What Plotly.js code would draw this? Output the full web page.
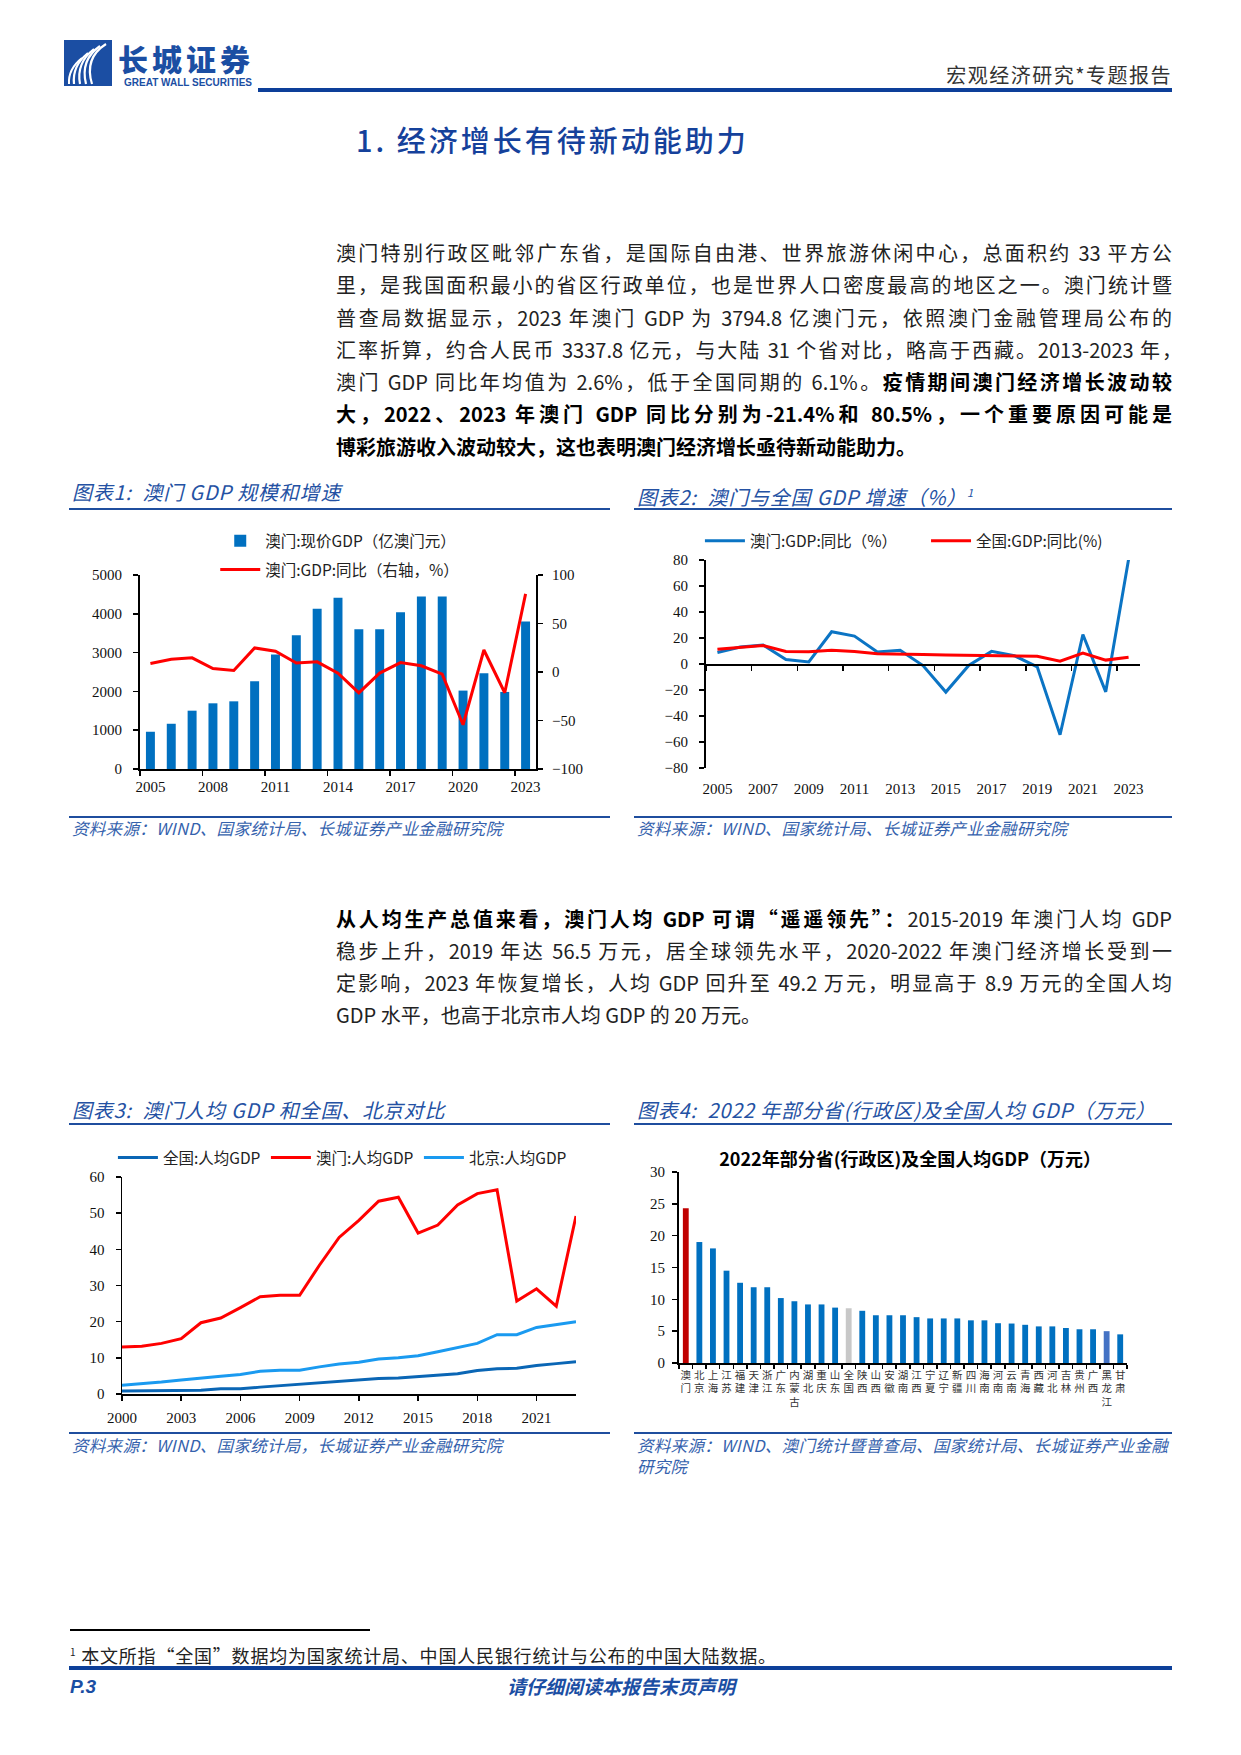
<!DOCTYPE html>
<html>
<head>
<meta charset="utf-8">
<script src="https://cdn.plot.ly/plotly-3.0.1.min.js"></script>
<style>
  html, body { margin: 0; padding: 0; background: #fff; }
  #page { position: relative; width: 1241px; height: 1755px; overflow: hidden; background: #fff;
          font-family: "Noto Sans CJK SC", "Noto Sans", sans-serif; color: #111; }
  .abs { position: absolute; }
  .figtitle { position: absolute; font-style: italic; color: #2451a3; font-size: 20px; letter-spacing: 0.8px; line-height: 24px; white-space: nowrap; }
  .src { position: absolute; font-style: italic; color: #3562ad; font-size: 16.5px; line-height: 21px; letter-spacing: 0.3px; }
  .rule { position: absolute; height: 2px; background: #1f4e9e; }
  .ln { position: absolute; left: 336px; width: 836px; font-size: 20px; line-height: 30px; height: 30px;
        text-align: justify; text-align-last: justify; color: #222; }
  .ln.last { text-align-last: left; }
  b { font-weight: 700; color: #000; }
  .chart { position: absolute; }
</style>
</head>
<body>
<div id="page">
  <!-- header -->
  <svg class="abs" style="left:62px;top:28px" width="240" height="66" viewBox="0 0 240 66">
    <rect x="2" y="12" width="48" height="46" fill="#1b4ea3"/>
    <path d="M44 16 Q22 30 30 56" stroke="#fff" stroke-width="2.2" fill="none"/>
    <path d="M38 18 Q18 32 24 56" stroke="#fff" stroke-width="2.2" fill="none"/>
    <path d="M32 21 Q14 35 18 56" stroke="#fff" stroke-width="2.2" fill="none"/>
    <path d="M26 25 Q10 38 12 56" stroke="#fff" stroke-width="2.2" fill="none"/>
    <path d="M20 30 Q6 41 7 56" stroke="#fff" stroke-width="2" fill="none"/>
    <text x="56" y="43" font-family="Noto Sans CJK SC" font-weight="900" font-size="30" fill="#1b4ea3" letter-spacing="4">长城证券</text>
    <text x="62" y="58" font-family="Liberation Sans" font-weight="700" font-size="10" fill="#1b4ea3">GREAT WALL SECURITIES</text>
  </svg>
  <div class="abs" style="right:69px;top:61px;font-size:20px;letter-spacing:1.5px;color:#333;line-height:28px;">宏观经济研究*专题报告</div>
  <div class="abs" style="left:258px;top:88px;width:914px;height:4px;background:#0d3f99;"></div>

  <div class="abs" style="left:356px;top:120px;font-size:29px;line-height:38px;color:#15419b;font-weight:500;letter-spacing:3px;">1. 经济增长有待新动能助力</div>

  <!-- paragraph 1 -->
  <div class="ln" style="top:238px">澳门特别行政区毗邻广东省，是国际自由港、世界旅游休闲中心，总面积约 33 平方公</div>
  <div class="ln" style="top:270px">里，是我国面积最小的省区行政单位，也是世界人口密度最高的地区之一。澳门统计暨</div>
  <div class="ln" style="top:303px">普查局数据显示，2023 年澳门 GDP 为 3794.8 亿澳门元，依照澳门金融管理局公布的</div>
  <div class="ln" style="top:335px;width:846px">汇率折算，约合人民币 3337.8 亿元，与大陆 31 个省对比，略高于西藏。2013-2023 年，</div>
  <div class="ln" style="top:367px">澳门 GDP 同比年均值为 2.6%，低于全国同期的 6.1%。<b>疫情期间澳门经济增长波动较</b></div>
  <div class="ln" style="top:399px"><b>大，2022、2023 年澳门 GDP 同比分别为-21.4%和 80.5%，一个重要原因可能是</b></div>
  <div class="ln last" style="top:432px"><b>博彩旅游收入波动较大，这也表明澳门经济增长亟待新动能助力。</b></div>

  <!-- figure 1 & 2 titles -->
  <div class="figtitle" style="left:72px;top:480px;">图表1:&nbsp; 澳门 GDP 规模和增速</div>
  <div class="rule" style="left:69px;top:508px;width:541px;"></div>
  <div class="figtitle" style="left:637px;top:480px;">图表2:&nbsp; 澳门与全国 GDP 增速（%）<sup style="font-size:11px">1</sup></div>
  <div class="rule" style="left:634px;top:508px;width:538px;"></div>

  <div id="c1" class="chart" style="left:60px;top:515px;width:545px;height:300px;"></div>
  <div id="c2" class="chart" style="left:630px;top:520px;width:545px;height:290px;"></div>

  <div class="rule" style="left:69px;top:816px;width:541px;"></div>
  <div class="src" style="left:72px;top:818px;">资料来源：WIND、国家统计局、长城证券产业金融研究院</div>
  <div class="rule" style="left:634px;top:816px;width:538px;"></div>
  <div class="src" style="left:637px;top:818px;">资料来源：WIND、国家统计局、长城证券产业金融研究院</div>

  <!-- paragraph 2 -->
  <div class="ln" style="top:904px"><b>从人均生产总值来看，澳门人均 GDP 可谓“遥遥领先”：</b>2015-2019 年澳门人均 GDP</div>
  <div class="ln" style="top:936px">稳步上升，2019 年达 56.5 万元，居全球领先水平，2020-2022 年澳门经济增长受到一</div>
  <div class="ln" style="top:968px">定影响，2023 年恢复增长，人均 GDP 回升至 49.2 万元，明显高于 8.9 万元的全国人均</div>
  <div class="ln last" style="top:1000px">GDP 水平，也高于北京市人均 GDP 的 20 万元。</div>

  <!-- figure 3 & 4 titles -->
  <div class="figtitle" style="left:72px;top:1098px;">图表3:&nbsp; 澳门人均 GDP 和全国、北京对比</div>
  <div class="rule" style="left:69px;top:1123px;width:541px;"></div>
  <div class="figtitle" style="left:637px;top:1098px;">图表4:&nbsp; 2022 年部分省(行政区)及全国人均 GDP（万元）</div>
  <div class="rule" style="left:634px;top:1123px;width:538px;"></div>

  <div id="c3" class="chart" style="left:60px;top:1135px;width:540px;height:290px;"></div>
  <div id="c4" class="chart" style="left:630px;top:1135px;width:545px;height:290px;"></div>

  <div class="rule" style="left:69px;top:1432px;width:541px;"></div>
  <div class="src" style="left:72px;top:1435px;">资料来源：WIND、国家统计局，长城证券产业金融研究院</div>
  <div class="rule" style="left:634px;top:1432px;width:538px;"></div>
  <div class="src" style="left:637px;top:1435px;width:537px;">资料来源：WIND、澳门统计暨普查局、国家统计局、长城证券产业金融研究院</div>

  <!-- footnote & footer -->
  <div class="abs" style="left:70px;top:1629px;width:300px;height:1.5px;background:#000;"></div>
  <div class="abs" style="left:70px;top:1640px;font-size:18px;line-height:24px;color:#222;letter-spacing:0.8px;white-space:nowrap;"><sup style="font-size:10px">1</sup> 本文所指“全国”数据均为国家统计局、中国人民银行统计与公布的中国大陆数据。</div>
  <div class="abs" style="left:69px;top:1666px;width:1103px;height:4px;background:#0d3f99;"></div>
  <div class="abs" style="left:70px;top:1675px;font-size:19px;line-height:24px;font-weight:700;font-style:italic;color:#1b4ea3;font-family:'Liberation Sans',sans-serif;">P.3</div>
  <div class="abs" style="left:507px;top:1674px;font-size:19px;line-height:24px;font-weight:700;font-style:italic;color:#1b4ea3;">请仔细阅读本报告末页声明</div>
</div>

<script>
// ---------- data ----------
const years05 = ['2005','2006','2007','2008','2009','2010','2011','2012','2013','2014','2015','2016','2017','2018','2019','2020','2021','2022','2023'];
// 澳门:现价GDP（亿澳门元）
const macauGdp = [960, 1166, 1503, 1693, 1744, 2263, 2953, 3446, 4128, 4413, 3601, 3601, 4041, 4447, 4447, 2021, 2470, 1986, 3800];
// 澳门:GDP:同比（%）
const macauGdpYoy = [8.8, 13.1, 14.6, 3.5, 1.6, 24.8, 21.5, 9.3, 10.5, -1.2, -21.6, -1.1, 9.7, 6.4, -2.2, -54.4, 22.7, -21.4, 80.5];
// 全国:GDP:同比（%）
const chinaGdpYoy = [11.4, 12.7, 14.2, 9.7, 9.4, 10.6, 9.6, 7.9, 7.8, 7.4, 7.0, 6.8, 6.9, 6.7, 6.0, 2.2, 8.4, 3.0, 5.2];

const years00 = [2000,2001,2002,2003,2004,2005,2006,2007,2008,2009,2010,2011,2012,2013,2014,2015,2016,2017,2018,2019,2020,2021,2022,2023];
// 人均GDP（万元）
const chinaPerCap   = [0.8, 0.86, 0.94, 1.0, 1.05, 1.42, 1.45, 1.9, 2.3, 2.6, 3.0, 3.5, 3.9, 4.3, 4.4, 4.8, 5.2, 5.6, 6.5, 7.0, 7.1, 7.9, 8.4, 8.9];
const macauPerCap   = [13.0, 13.2, 14.0, 15.3, 19.7, 21.0, 23.9, 26.9, 27.3, 27.3, 35.6, 43.3, 48.0, 53.3, 54.4, 44.5, 46.7, 52.3, 55.4, 56.5, 25.7, 29.1, 24.3, 49.2];
const beijingPerCap = [2.4, 2.8, 3.3, 3.9, 4.3, 4.9, 5.4, 6.3, 6.6, 6.6, 7.5, 8.3, 8.8, 9.7, 10.0, 10.6, 11.7, 12.9, 14.0, 16.4, 16.4, 18.4, 19.1, 20.0];

// 2022年部分省(行政区)及全国人均GDP（万元）
const regions = ['澳门','北京','上海','江苏','福建','天津','浙江','广东','内蒙古','湖北','重庆','山东','全国','陕西','山西','安徽','湖南','江西','宁夏','辽宁','新疆','四川','海南','河南','云南','青海','西藏','河北','吉林','贵州','广西','黑龙江','甘肃'];
const perCap2022 = [24.3, 19.0, 18.0, 14.5, 12.6, 11.9, 11.9, 10.2, 9.7, 9.2, 9.2, 8.7, 8.6, 8.2, 7.5, 7.5, 7.5, 7.2, 7.0, 7.0, 7.0, 6.7, 6.7, 6.25, 6.2, 6.0, 5.75, 5.75, 5.5, 5.3, 5.3, 5.0, 4.5];

// ---------- styling helpers ----------
const NUMFONT = 'Liberation Serif, serif';
const CJK = 'Noto Sans CJK SC, sans-serif';
const cfg = {displayModeBar: false, staticPlot: true};
const axBase = {showline: true, linecolor: '#000', linewidth: 2, ticks: 'outside', ticklen: 5, tickwidth: 1.5,
  tickcolor: '#000', showgrid: false, zeroline: false, tickangle: 0, automargin: false,
  tickfont: {family: NUMFONT, size: 15, color: '#111'}};
const legFont = {family: CJK, size: 15.5, color: '#222'};
function leg(x, y) { return {x: x, y: y, xanchor: 'left', yanchor: 'middle', orientation: 'h', itemwidth: 40,
  bgcolor: 'rgba(0,0,0,0)', font: legFont}; }
function margin(l, r, t, b) { return {l: l, r: r, t: t, b: b, autoexpand: false}; }

// ---------- Chart 1 ----------
Plotly.newPlot('c1', [
  {type: 'bar', x: years05, y: macauGdp, name: '澳门:现价GDP（亿澳门元）', marker: {color: '#0070C0'}, legend: 'legend'},
  {type: 'scatter', mode: 'lines', x: years05, y: macauGdpYoy, yaxis: 'y2', name: '澳门:GDP:同比（右轴，%）',
   line: {color: '#FF0000', width: 3}, legend: 'legend2'}
], {
  width: 545, height: 300, margin: margin(80, 69, 60, 46),
  paper_bgcolor: 'rgba(0,0,0,0)', plot_bgcolor: 'rgba(0,0,0,0)',
  bargap: 0.57, showlegend: true,
  xaxis: Object.assign({}, axBase, {type: 'category', tickmode: 'linear', tick0: 0, dtick: 3, tickson: 'boundaries', range: [-0.5, 18.5], ticklabelstandoff: 3}),
  yaxis: Object.assign({}, axBase, {range: [0, 5000], dtick: 1000, ticklabelstandoff: 8}),
  yaxis2: Object.assign({}, axBase, {overlaying: 'y', side: 'right', range: [-100, 100], dtick: 50, ticklabelstandoff: 6}),
  legend: leg(0.19, 1.175),
  legend2: leg(0.19, 1.026)
}, cfg);

// ---------- Chart 2 ----------
Plotly.newPlot('c2', [
  {type: 'scatter', mode: 'lines', x: years05, y: macauGdpYoy, name: '澳门:GDP:同比（%）', line: {color: '#0B74C4', width: 3}, legend: 'legend'},
  {type: 'scatter', mode: 'lines', x: years05, y: chinaGdpYoy, xaxis: 'x2', name: '全国:GDP:同比(%)', line: {color: '#FF0000', width: 3}, legend: 'legend2'}
], {
  width: 545, height: 290, margin: margin(76, 35, 40, 42),
  paper_bgcolor: 'rgba(0,0,0,0)', plot_bgcolor: 'rgba(0,0,0,0)',
  xaxis: Object.assign({}, axBase, {type: 'category', tickmode: 'linear', tick0: 0, dtick: 2, range: [-0.5, 18.5],
    showline: false, ticks: '', ticklabelstandoff: 10}),
  xaxis2: Object.assign({}, axBase, {type: 'category', tickmode: 'linear', tick0: 0, dtick: 2, range: [-0.5, 18.5],
    overlaying: 'x', anchor: 'free', position: 0.5, tickson: 'boundaries', showticklabels: false, linewidth: 1.5}),
  yaxis: Object.assign({}, axBase, {range: [-80, 80], dtick: 20, ticklabelstandoff: 8}),
  legend: leg(-0.014, 1.091),
  legend2: leg(0.507, 1.091),
  showlegend: true
}, cfg);

// ---------- Chart 3 ----------
Plotly.newPlot('c3', [
  {type: 'scatter', mode: 'lines', x: years00, y: chinaPerCap, name: '全国:人均GDP', line: {color: '#0A66B5', width: 3}, legend: 'legend'},
  {type: 'scatter', mode: 'lines', x: years00, y: macauPerCap, name: '澳门:人均GDP', line: {color: '#FF0000', width: 3}, legend: 'legend2'},
  {type: 'scatter', mode: 'lines', x: years00, y: beijingPerCap, name: '北京:人均GDP', line: {color: '#1A9AF0', width: 3}, legend: 'legend3'}
], {
  width: 540, height: 290, margin: margin(62, 24, 42, 31),
  paper_bgcolor: 'rgba(0,0,0,0)', plot_bgcolor: 'rgba(0,0,0,0)',
  xaxis: Object.assign({}, axBase, {range: [2000, 2023], tick0: 2000, dtick: 3, linewidth: 1.5, ticklabelstandoff: 4}),
  yaxis: Object.assign({}, axBase, {range: [0, 60], dtick: 10, linewidth: 1.5, ticklabelstandoff: 8}),
  legend: leg(-0.02, 1.088),
  legend2: leg(0.317, 1.088),
  legend3: leg(0.654, 1.088),
  showlegend: true
}, cfg);

// ---------- Chart 4 ----------
const highlight = {'澳门': '#C00000', '全国': '#C8C8C8', '黑龙江': '#4472C4'};
const barColors = regions.map(r => highlight[r] || '#0070C0');
const stacked = regions.map(r => r.split('').join('<br>'));
Plotly.newPlot('c4', [
  {type: 'bar', x: stacked, y: perCap2022, marker: {color: barColors}, showlegend: false}
], {
  width: 545, height: 290, margin: margin(49, 48, 37, 62),
  paper_bgcolor: 'rgba(0,0,0,0)', plot_bgcolor: 'rgba(0,0,0,0)',
  bargap: 0.57,
  title: {text: '<b>2022年部分省(行政区)及全国人均GDP（万元）</b>', x: 0.514, xanchor: 'center', y: 0.914, yanchor: 'middle',
    font: {family: CJK, size: 18, color: '#000'}},
  xaxis: Object.assign({}, axBase, {type: 'category', tickson: 'boundaries', ticklen: 4, range: [-0.5, 32.5],
    tickfont: {family: CJK, size: 10.5, color: '#333'}, ticklabelstandoff: 1}),
  yaxis: Object.assign({}, axBase, {range: [0, 30], dtick: 5, ticklabelstandoff: 4})
}, cfg);
</script>
</body>
</html>
